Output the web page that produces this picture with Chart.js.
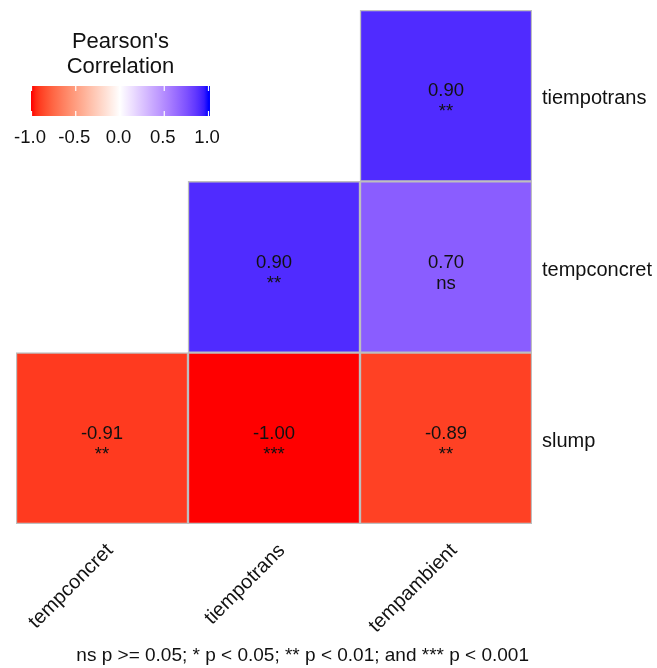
<!DOCTYPE html>
<html>
<head>
<meta charset="utf-8">
<script src="https://cdn.jsdelivr.net/npm/chart.js@4"></script>
<style>
  html, body { margin: 0; padding: 0; background: #ffffff; }
  #wrap { width: 657px; height: 668px; position: relative; }
</style>
</head>
<body>
<div id="wrap"><canvas id="corr"></canvas></div>
<script>
// Variables on each axis
const colLabels = ['tempconcret', 'tiempotrans', 'tempambient'];
const rowLabels = ['slump', 'tempconcret', 'tiempotrans'];   // bottom to top

// Pearson coefficients, one array per row (null = upper triangle left blank)
const rSlump       = [-0.91, -1.00, -0.89];
const rTempconcret = [null, 0.90, 0.70];
const rTiempotrans = [null, null, 0.90];

// Significance codes per cell
const sigSlump       = ['**', '***', '**'];
const sigTempconcret = [null, '**', 'ns'];
const sigTiempotrans = [null, null, '**'];

const legendTicks = [-1.0, -0.5, 0.0, 0.5, 1.0];
const captionText = 'ns p >= 0.05; * p < 0.05; ** p < 0.01; and *** p < 0.001';

const rowValues = [rSlump, rTempconcret, rTiempotrans];
const rowSig = [sigSlump, sigTempconcret, sigTiempotrans];

// ---- diverging red-white-blue scale, interpolated in CIE Lab ----
function srgbToLin(c) { c /= 255; return c <= 0.04045 ? c / 12.92 : Math.pow((c + 0.055) / 1.055, 2.4); }
function linToSrgb(c) { const v = c <= 0.0031308 ? 12.92 * c : 1.055 * Math.pow(c, 1 / 2.4) - 0.055; return Math.round(Math.min(1, Math.max(0, v)) * 255); }
const WX = 0.95047, WY = 1.0, WZ = 1.08883;
function f(t) { return t > 0.008856 ? Math.cbrt(t) : 7.787 * t + 16 / 116; }
function finv(t) { return t > 0.206893 ? t * t * t : (t - 16 / 116) / 7.787; }
function rgbToLab([r, g, b]) {
  const R = srgbToLin(r), G = srgbToLin(g), B = srgbToLin(b);
  const X = R * 0.4124 + G * 0.3576 + B * 0.1805;
  const Y = R * 0.2126 + G * 0.7152 + B * 0.0722;
  const Z = R * 0.0193 + G * 0.1192 + B * 0.9505;
  const fx = f(X / WX), fy = f(Y / WY), fz = f(Z / WZ);
  return [116 * fy - 16, 500 * (fx - fy), 200 * (fy - fz)];
}
function labToRgb([L, a, bb]) {
  const fy = (L + 16) / 116, fx = fy + a / 500, fz = fy - bb / 200;
  const X = finv(fx) * WX, Y = finv(fy) * WY, Z = finv(fz) * WZ;
  const R = X * 3.2406 + Y * -1.5372 + Z * -0.4986;
  const G = X * -0.9689 + Y * 1.8758 + Z * 0.0415;
  const B = X * 0.0557 + Y * -0.2040 + Z * 1.0570;
  return [linToSrgb(R), linToSrgb(G), linToSrgb(B)];
}
const labLow = rgbToLab([255, 0, 0]);
const labMid = rgbToLab([255, 255, 255]);
const labHigh = rgbToLab([0, 0, 255]);
function corrColor(v) {
  const t = Math.min(1, Math.abs(v));
  const end = v < 0 ? labLow : labHigh;
  const lab = labMid.map((m, i) => m + (end[i] - m) * t);
  const [r, g, b] = labToRgb(lab);
  return `rgb(${r},${g},${b})`;
}

// ---- one floating-bar dataset per row ----
const datasets = rowValues.map((vals, r) => ({
  label: rowLabels[r],
  data: vals.map((v, c) => v === null ? null : { x: colLabels[c], y: [r, r + 1], v: v, sig: rowSig[r][c] })
            .filter(d => d !== null),
  backgroundColor: ctx => corrColor(ctx.raw.v),
  borderColor: '#BEBEBE',
  borderWidth: 1.5,
  borderSkipped: false,
  grouped: false,
  barPercentage: 1.0,
  categoryPercentage: 1.0
}));

const FONT = '"Liberation Sans", Arial, sans-serif';

// Coefficient and significance text inside each tile
const cellText = {
  id: 'cellText',
  afterDatasetsDraw(chart) {
    const { ctx } = chart;
    ctx.save();
    ctx.fillStyle = '#111';
    ctx.textAlign = 'center';
    ctx.textBaseline = 'alphabetic';
    ctx.font = `18.5px ${FONT}`;
    chart.data.datasets.forEach((ds, di) => {
      chart.getDatasetMeta(di).data.forEach((bar, i) => {
        const d = ds.data[i];
        const cx = bar.x;
        const cy = (bar.y + bar.base) / 2;
        ctx.fillText(d.v.toFixed(2), cx, cy + 0.5);
        ctx.fillText(d.sig, cx, cy + 21.5);
      });
    });
    ctx.restore();
  }
};

// Colour bar legend and caption
const colourBar = {
  id: 'colourBar',
  afterDraw(chart) {
    const { ctx, chartArea } = chart;
    ctx.save();
    // title
    ctx.fillStyle = '#111';
    ctx.textAlign = 'center';
    ctx.textBaseline = 'middle';
    ctx.font = `22px ${FONT}`;
    ctx.fillText("Pearson's", 120.5, 42);
    ctx.fillText('Correlation', 120.5, 67);
    // gradient
    const x0 = 31, x1 = 210, y0 = 86, y1 = 116;
    const tx0 = 31.5, tx1 = 208.5;
    const grad = ctx.createLinearGradient(tx0, 0, tx1, 0);
    for (let k = 0; k <= 40; k++) {
      const v = -1 + 2 * k / 40;
      grad.addColorStop(k / 40, corrColor(v));
    }
    ctx.fillStyle = grad;
    ctx.fillRect(x0, y0, x1 - x0, y1 - y0);
    // white tick notches
    ctx.strokeStyle = '#ffffff';
    ctx.lineWidth = 1.2;
    const tickX = v => tx0 + (v + 1) / 2 * (tx1 - tx0);
    legendTicks.forEach(v => {
      const x = tickX(v);
      ctx.beginPath();
      ctx.moveTo(x, y0); ctx.lineTo(x, y0 + 5);
      ctx.moveTo(x, y1 - 5); ctx.lineTo(x, y1);
      ctx.stroke();
    });
    // tick labels
    ctx.fillStyle = '#111';
    ctx.font = `18.5px ${FONT}`;
    legendTicks.forEach(v => ctx.fillText(v.toFixed(1), tickX(v) - 1.5, 138));
    // caption
    ctx.textAlign = 'right';
    ctx.font = `19px ${FONT}`;
    ctx.fillText(captionText, chartArea.right - 3, 656);
    ctx.restore();
  }
};

new Chart(document.getElementById('corr'), {
  type: 'bar',
  data: { labels: colLabels, datasets: datasets },
  plugins: [cellText, colourBar],
  options: {
    responsive: true,
    maintainAspectRatio: false,
    animation: false,
    events: [],
    layout: { padding: { left: 16, top: 10, right: 0, bottom: 0 } },
    plugins: {
      legend: { display: false },
      tooltip: { enabled: false }
    },
    scales: {
      x: {
        type: 'category',
        offset: true,
        grid: { display: false, drawTicks: false },
        border: { display: false },
        ticks: {
          color: '#111',
          font: { family: FONT, size: 20 },
          minRotation: 45,
          maxRotation: 45,
          autoSkip: false,
          padding: 15,
          labelOffset: 8
        },
        afterFit: scale => { scale.height = 144; }
      },
      y: {
        type: 'linear',
        position: 'right',
        min: 0,
        max: 3,
        grid: { display: false, drawTicks: false },
        border: { display: false },
        afterBuildTicks: scale => { scale.ticks = rowLabels.map((_, i) => ({ value: i + 0.5 })); },
        ticks: {
          color: '#111',
          font: { family: FONT, size: 20 },
          padding: 10,
          labelOffset: 3,
          callback: value => rowLabels[Math.floor(value)]
        },
        afterFit: scale => {
          scale.width = 125;
          scale.paddingTop = 0;
          scale.paddingBottom = 0;
        }
      }
    }
  }
});
</script>
</body>
</html>
